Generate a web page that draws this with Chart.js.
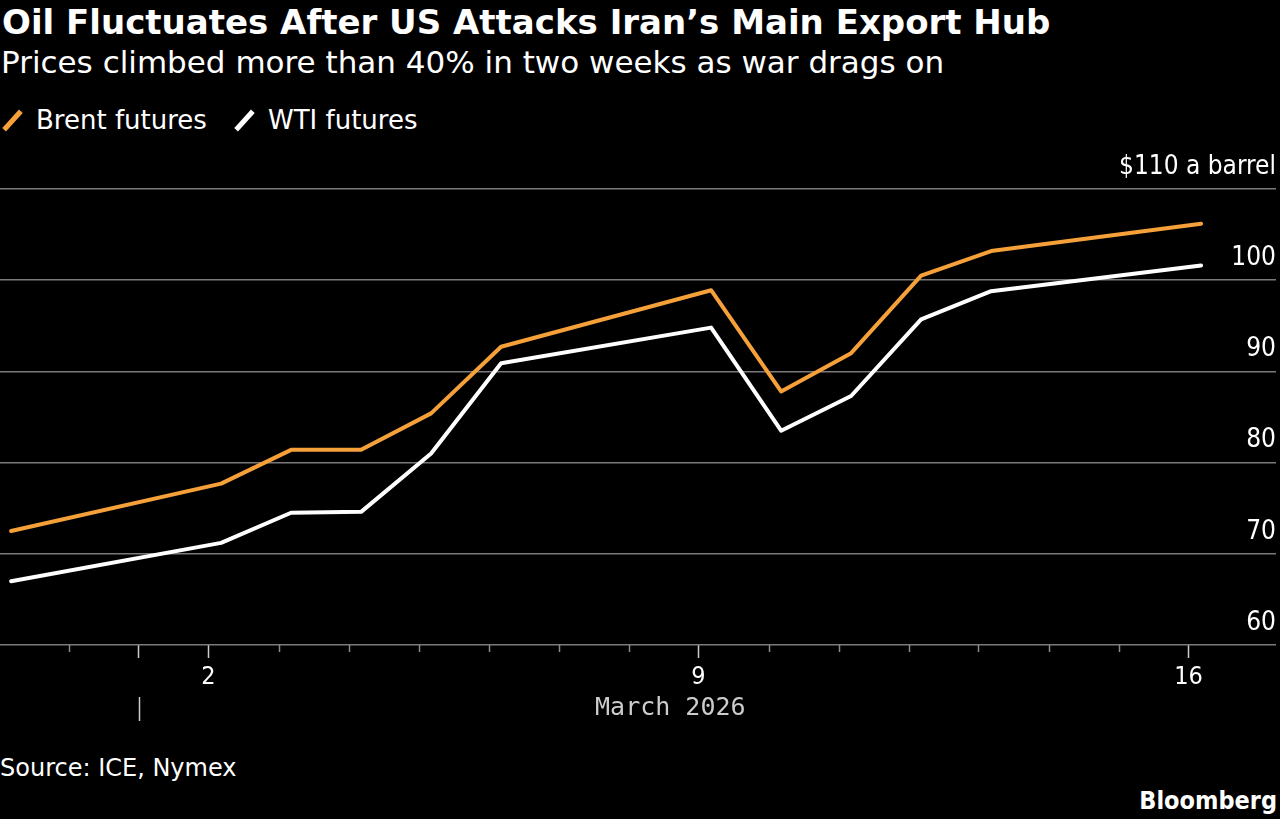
<!DOCTYPE html>
<html>
<head>
<meta charset="utf-8">
<script src="https://cdn.jsdelivr.net/npm/chart.js@4.4.1/dist/chart.umd.min.js"></script>
<style>
  html, body { margin: 0; padding: 0; background: #000; }
  body { width: 1280px; height: 819px; position: relative; overflow: hidden;
         font-family: "DejaVu Sans", sans-serif; color: #fff; }
  .abs { position: absolute; white-space: nowrap; }
  #title { left: 2px; top: 1px; font-size: 34px; font-weight: bold; line-height: 42px; }
  #subtitle { left: 1px; top: 42px; font-size: 31px; line-height: 40px; }
  .legend { top: 103px; font-size: 26px; line-height: 34px; }
  .mark { position: absolute; width: 5px; height: 25px; top: 5px; transform: rotate(42deg); }
  #source { left: 0px; top: 752px; font-size: 24px; line-height: 32px; }
  #brand { right: 3px; top: 785px; font-size: 25px; font-weight: bold; line-height: 32px;
           font-family: "DejaVu Sans Condensed", "DejaVu Sans", sans-serif; }
  #wrap { position: absolute; left: 0; top: 140px; width: 1280px; height: 605px; }
</style>
</head>
<body>
<div id="title" class="abs">Oil Fluctuates After US Attacks Iran’s Main Export Hub</div>
<div id="subtitle" class="abs">Prices climbed more than 40% in two weeks as war drags on</div>
<div class="abs legend" style="left:0px;"><span class="mark" style="left:10px;background:#f6a03a;"></span><span style="margin-left:36px;">Brent futures</span></div>
<div class="abs legend" style="left:232px;"><span class="mark" style="left:10px;background:#ffffff;"></span><span style="margin-left:36px;">WTI futures</span></div>
<div id="wrap"><canvas id="c"></canvas></div>
<div id="source" class="abs">Source: ICE, Nymex</div>
<div id="brand" class="abs">Bloomberg</div>
<script>
// ---- data ----
const dates = ['2026-02-27','2026-03-02','2026-03-03','2026-03-04','2026-03-05','2026-03-06',
               '2026-03-09','2026-03-10','2026-03-11','2026-03-12','2026-03-13','2026-03-16'];
const brent = [72.5, 77.7, 81.4, 81.4, 85.4, 92.7, 98.9, 87.8, 92.0, 100.5, 103.2, 106.2];
const wti   = [67.0, 71.2, 74.5, 74.6, 81.0, 90.9, 94.8, 83.5, 87.3, 95.7, 98.8, 101.6];
const yTickValues = [60, 70, 80, 90, 100, 110];
const yTopLabel = '$110 a barrel';
const xTickDays = [0,1,2,3,4,5,6,7,8,9,10,11,12,13,14,15,16];   // day of March (0 = Feb 28)
const xLabelDays = { 2: '2', 9: '9', 16: '16' };
const xMajorDays = [1, 2, 9, 16];
const monthLabel = 'March 2026';
const monthStartDay = 1;
const settleFraction = 0.18; // time of day of the quote

const ORANGE = '#f6a03a';
const base = Date.UTC(2026, 1, 28);
function dayOf(s) {
  const [y, m, d] = s.split('-').map(Number);
  return (Date.UTC(y, m - 1, d) - base) / 86400000 + settleFraction;
}
const brentPts = dates.map((d, i) => ({ x: dayOf(d), y: brent[i] }));
const wtiPts = dates.map((d, i) => ({ x: dayOf(d), y: wti[i] }));

const FONT = '"DejaVu Sans Condensed", "DejaVu Sans", sans-serif';

const extras = {
  id: 'extras',
  afterDraw(chart) {
    const xs = chart.scales.x, ctx = chart.ctx;
    const y0 = xs.top;
    ctx.save();
    ctx.lineWidth = 1.5;
    ctx.strokeStyle = '#8a8a8a';
    xTickDays.forEach(d => {
      if (xMajorDays.includes(d)) return;
      const px = Math.round(xs.getPixelForValue(d)) + 0.5;
      ctx.beginPath(); ctx.moveTo(px, y0); ctx.lineTo(px, y0 + 7); ctx.stroke();
    });
    // month separator
    const sx = Math.round(xs.getPixelForValue(monthStartDay)) + 0.5;
    ctx.strokeStyle = '#cccccc';
    ctx.beginPath(); ctx.moveTo(sx, y0 + 52); ctx.lineTo(sx, y0 + 76); ctx.stroke();
    // month label centred over March section of the data
    const endX = xs.getPixelForValue(dayOf(dates[dates.length - 1]));
    ctx.fillStyle = '#cccccc';
    ctx.font = '25px "DejaVu Sans Mono", monospace';
    ctx.textAlign = 'center';
    ctx.textBaseline = 'middle';
    ctx.fillText(monthLabel, (sx + endX) / 2, y0 + 63);
    ctx.restore();
  }
};

new Chart(document.getElementById('c'), {
  type: 'line',
  data: {
    datasets: [
      { label: 'Brent futures', data: brentPts, borderColor: ORANGE, borderWidth: 4,
        pointRadius: 0, tension: 0, borderCapStyle: 'round', borderJoinStyle: 'round' },
      { label: 'WTI futures', data: wtiPts, borderColor: '#ffffff', borderWidth: 4,
        pointRadius: 0, tension: 0, borderCapStyle: 'round', borderJoinStyle: 'round' }
    ]
  },
  options: {
    responsive: true,
    maintainAspectRatio: false,
    animation: false,
    layout: { padding: { top: 49, right: 4, left: 0, bottom: 0 } },
    plugins: { legend: { display: false }, tooltip: { enabled: false }, title: { display: false } },
    scales: {
      x: {
        type: 'linear',
        min: 1 - 138.5 / 70,
        max: 17.25,
        border: { display: false },
        grid: {
          display: true, drawOnChartArea: false, drawTicks: true, tickLength: 13, tickWidth: 1.5,
          tickColor: c => xMajorDays.includes(c.tick && c.tick.value) ? '#cccccc' : 'rgba(0,0,0,0)'
        },
        afterBuildTicks: s => { s.ticks = xTickDays.map(v => ({ value: v })); },
        afterFit: s => { s.height = 100; },
        ticks: {
          autoSkip: false, maxRotation: 0, padding: 4,
          color: '#ffffff', font: { family: FONT, size: 25 },
          callback: v => xLabelDays[v] || ''
        }
      },
      y: {
        position: 'right',
        min: 60, max: 110,
        border: { display: false },
        afterBuildTicks: s => { s.ticks = yTickValues.map(v => ({ value: v })); },
        afterFit: s => { s.width = 0; },
        grid: { color: '#7a7a7a', lineWidth: 1.5, drawTicks: false },
        ticks: {
          mirror: true, padding: 0, labelOffset: -22, crossAlign: 'near',
          color: '#ffffff', font: { family: FONT, size: 26 },
          callback: v => v === 110 ? yTopLabel : String(v)
        }
      }
    }
  },
  plugins: [extras]
});
</script>
</body>
</html>
